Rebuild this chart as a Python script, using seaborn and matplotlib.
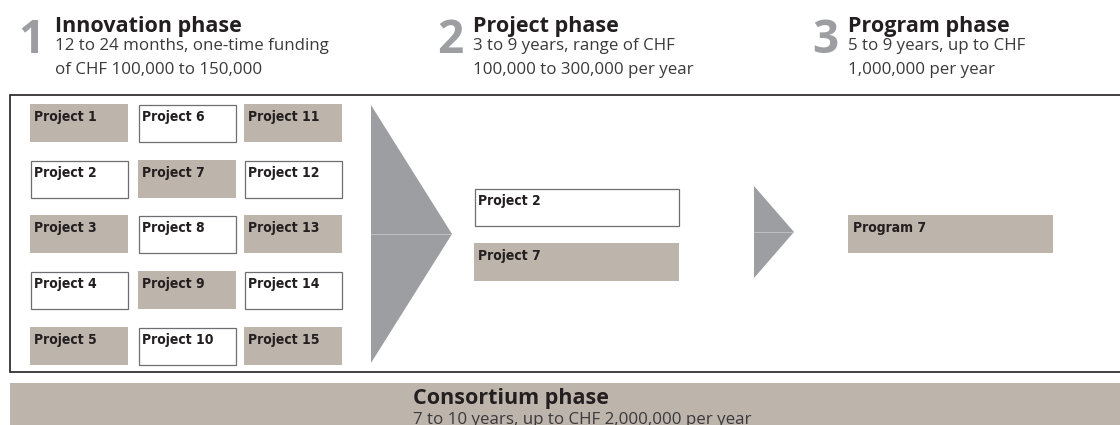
import matplotlib.pyplot as plt
import seaborn as sns
from matplotlib.patches import Rectangle, Polygon

# phase headers
phase_numbers = ['1', '2', '3']
phase_titles = ['Innovation phase', 'Project phase', 'Program phase']
phase_lines = [
    ['12 to 24 months, one-time funding', 'of CHF 100,000 to 150,000'],
    ['3 to 9 years, range of CHF', '100,000 to 300,000 per year'],
    ['5 to 9 years, up to CHF', '1,000,000 per year'],
]

# projects in the innovation phase (column by column)
innovation_projects = ['Project 1', 'Project 2', 'Project 3', 'Project 4', 'Project 5',
                       'Project 6', 'Project 7', 'Project 8', 'Project 9', 'Project 10',
                       'Project 11', 'Project 12', 'Project 13', 'Project 14', 'Project 15']
innovation_filled = [True, False, True, False, True,
                     False, True, False, True, False,
                     True, False, True, False, True]

# what goes on to the next phases
project_phase = ['Project 2', 'Project 7']
project_filled = [False, True]
program_phase = ['Program 7']
program_filled = [True]

consortium_title = 'Consortium phase'
consortium_text = '7 to 10 years, up to CHF 2,000,000 per year'

TAN = '#bdb4ab'
GREY = '#9d9ea1'
INK = '#231f20'
EDGE = '#6d6e71'

sns.set_theme(style='white')
plt.rcParams['font.family'] = ['Open Sans', 'DejaVu Sans']
LABEL_FONT = dict(family='DejaVu Sans', fontstretch='condensed', fontsize=10, fontweight='bold')

fig = plt.figure(figsize=(11.2, 4.25), dpi=100)
ax = fig.add_axes([0, 0, 1, 1])
ax.set_xlim(0, 1120)
ax.set_ylim(425, 0)
ax.axis('off')


def box(x, y, w, h, label, filled):
    if filled:
        ax.add_patch(Rectangle((x, y), w, h, facecolor=TAN, edgecolor='none'))
    else:
        ax.add_patch(Rectangle((x + 0.5, y + 0.5), w - 1, h - 1, facecolor='white',
                               edgecolor=EDGE, linewidth=0.9))
    ax.text(x + 4, y + 17, label, color=INK, va='baseline', ha='left', **LABEL_FONT)


def arrow(x0, x1, y0, y1):
    ym = (y0 + y1) / 2
    ax.add_patch(Polygon([(x0, y0), (x1, ym), (x0, y1)], closed=True,
                         facecolor=GREY, edgecolor='none'))
    ax.plot([x0, x1 - 1], [ym, ym], color='#c4c5c7', lw=0.6)


# headers
title_x = [55, 473, 848]
for num, title, lines, tx in zip(phase_numbers, phase_titles, phase_lines, title_x):
    ax.text(tx - 10, 53, num, fontsize=33, fontweight='bold', color=GREY,
            va='baseline', ha='right')
    ax.text(tx, 32, title, fontsize=15.5, fontweight='bold', color=INK, va='baseline')
    for i, line in enumerate(lines):
        ax.text(tx, 50 + 23.5 * i, line, fontsize=12.2, color='#3a3a3c', va='baseline')

# outer frame
ax.plot([1120, 10, 10, 1120], [95, 95, 372, 372], color=INK, lw=1.2,
        solid_joinstyle='miter')

# innovation grid: 3 columns x 5 rows
col_x = [30, 138, 244]
row_y = [104, 160, 215, 271, 327]
for k, (label, filled) in enumerate(zip(innovation_projects, innovation_filled)):
    box(col_x[k // 5], row_y[k % 5], 98, 38, label, filled)

arrow(371, 452, 105, 363)

for label, filled, y in zip(project_phase, project_filled, [188, 243]):
    box(474, y, 205, 38, label, filled)

arrow(754, 794, 186, 278)

for label, filled in zip(program_phase, program_filled):
    ax.add_patch(Rectangle((848, 215), 205, 38, facecolor=TAN, edgecolor='none'))
    ax.text(853, 232, label, color=INK, va='baseline', **LABEL_FONT)

# consortium band
ax.add_patch(Rectangle((10, 383), 1115, 50, facecolor=TAN, edgecolor='none'))
ax.text(413, 404, consortium_title, fontsize=15.5, fontweight='bold', color=INK, va='baseline')
ax.text(413, 424.5, consortium_text, fontsize=12.2, color='#3a3a3c', va='baseline')

fig.savefig('out.png', dpi=100)
